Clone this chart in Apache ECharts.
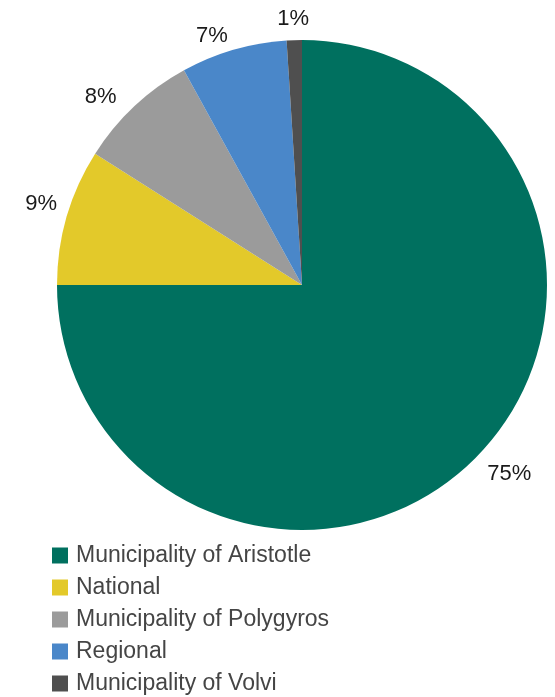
<!DOCTYPE html>
<html>
<head>
<meta charset="utf-8">
<script src="https://cdn.jsdelivr.net/npm/echarts@6/dist/echarts.min.js"></script>
<style>
html,body{margin:0;padding:0;background:#fff;}
#c{width:555px;height:697px;}
</style>
</head>
<body>
<div id="c"></div>
<script>
const categories = ["Municipality of Aristotle", "National", "Municipality of Polygyros", "Regional", "Municipality of Volvi"];
const shares = [75, 9, 8, 7, 1];
const colors = ["#00705f", "#e3c92a", "#9b9b9b", "#4a87c9", "#4f4f4f"];

// small per-label nudges (style only) to match the hand-placed labels
const labelNudgeX = [0, 5, -6, 2, 20];
const labelNudgeY = [9, -10, -2, -4, -11];

const chart = echarts.init(document.getElementById('c'), null, {renderer: 'canvas'});
chart.setOption({
  animation: false,
  backgroundColor: '#ffffff',
  legend: {
    orient: 'vertical',
    left: 52,
    top: 544,
    height: 200,
    padding: 0,
    itemWidth: 16,
    itemHeight: 16,
    itemGap: 9,
    icon: 'rect',
    textStyle: {fontFamily: 'Liberation Sans', fontSize: 23, lineHeight: 23, color: '#454545', padding: [0, 0, 0, 3]},
    data: categories
  },
  series: [{
    type: 'pie',
    center: [302, 285],
    radius: [0, 245],
    startAngle: 90,
    clockwise: true,
    avoidLabelOverlap: false,
    itemStyle: {borderWidth: 0},
    label: {
      show: true,
      position: 'outside',
      formatter: '{c}%',
      fontFamily: 'Liberation Sans',
      fontSize: 22,
      color: '#1a1a1a'
    },
    labelLine: {show: false, length: 10, length2: 0},
    labelLayout: function (p) {
      return {dx: labelNudgeX[p.dataIndex], dy: labelNudgeY[p.dataIndex]};
    },
    emphasis: {disabled: true},
    data: categories.map((n, i) => ({name: n, value: shares[i], itemStyle: {color: colors[i]}}))
  }]
});
</script>
</body>
</html>
